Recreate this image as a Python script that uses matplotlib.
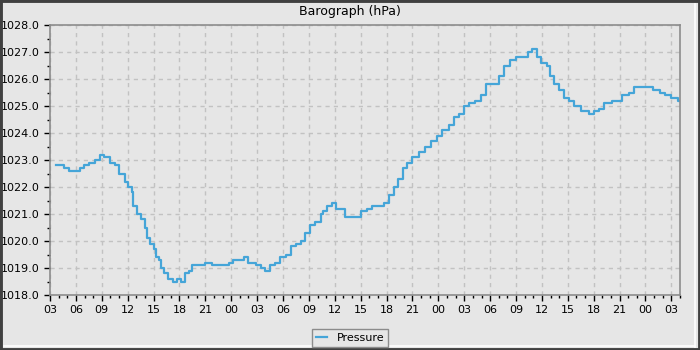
import matplotlib

matplotlib.use("Agg")

import matplotlib.pyplot as plt
from matplotlib.lines import Line2D
from matplotlib.patches import Rectangle
from matplotlib.ticker import FuncFormatter, MultipleLocator

# hours counted from midnight of the first day (three days shown)
hours = [
    3.75, 4.35, 4.65, 5.25, 6.0, 6.45, 6.9, 7.5, 8.25, 8.85, 9.3, 9.9, 10.5,
    10.95, 11.7, 12.0, 12.45, 12.6, 13.05, 13.5, 13.95, 14.25, 14.55, 15.0,
    15.3, 15.6, 15.9, 16.2, 16.65, 17.25, 17.7, 18.15, 18.6, 19.05, 19.5,
    20.25, 21.0, 21.75, 22.8, 23.7, 24.15, 25.05, 25.5, 25.95, 26.85, 27.45,
    27.9, 28.5, 29.1, 29.7, 30.3, 30.9, 31.5, 32.1, 32.55, 33.15, 33.75,
    34.35, 34.65, 35.1, 35.7, 36.15, 36.75, 37.2, 37.8, 38.55, 39.0, 39.75,
    40.35, 41.1, 41.7, 42.3, 42.9, 43.35, 43.95, 44.4, 45.0, 45.75, 46.5,
    47.1, 47.85, 48.45, 49.2, 49.8, 50.4, 51.0, 51.6, 52.2, 52.95, 53.55,
    54.3, 55.05, 55.65, 56.25, 57.0, 57.75, 58.35, 58.8, 59.4, 59.85, 60.6,
    60.9, 61.35, 61.95, 62.55, 63.15, 63.75, 64.5, 65.4, 66.0, 66.6, 67.2,
    68.1, 68.7, 69.3, 70.05, 70.65, 71.55, 72.3, 72.9, 73.65, 74.25, 75.0,
    75.75, 76.0,
]
pressure = [
    1022.8, 1022.8, 1022.7, 1022.6, 1022.6, 1022.7, 1022.8, 1022.9, 1023.0,
    1023.2, 1023.1, 1022.9, 1022.8, 1022.5, 1022.2, 1022.0, 1021.8, 1021.3,
    1021.0, 1020.8, 1020.5, 1020.1, 1019.9, 1019.7, 1019.4, 1019.3, 1019.0,
    1018.8, 1018.6, 1018.5, 1018.6, 1018.5, 1018.8, 1018.9, 1019.1, 1019.1,
    1019.2, 1019.1, 1019.1, 1019.2, 1019.3, 1019.3, 1019.4, 1019.2, 1019.1,
    1019.0, 1018.9, 1019.1, 1019.2, 1019.4, 1019.5, 1019.8, 1019.9, 1020.0,
    1020.3, 1020.6, 1020.7, 1021.0, 1021.1, 1021.3, 1021.4, 1021.2, 1021.2,
    1020.9, 1020.9, 1020.9, 1021.1, 1021.2, 1021.3, 1021.3, 1021.4, 1021.7,
    1022.0, 1022.3, 1022.7, 1022.9, 1023.1, 1023.3, 1023.5, 1023.7, 1023.9,
    1024.1, 1024.3, 1024.6, 1024.7, 1025.0, 1025.1, 1025.2, 1025.4, 1025.8,
    1025.8, 1026.1, 1026.5, 1026.7, 1026.8, 1026.8, 1027.0, 1027.1, 1026.8,
    1026.6, 1026.5, 1026.1, 1025.8, 1025.6, 1025.3, 1025.2, 1025.0, 1024.8,
    1024.7, 1024.8, 1024.9, 1025.1, 1025.2, 1025.2, 1025.4, 1025.5, 1025.7,
    1025.7, 1025.7, 1025.6, 1025.5, 1025.4, 1025.3, 1025.2, 1025.2,
]
x_ticks = list(range(3, 76, 3))

bg = "#e6e6e6"
line_color = "#45a5d8"

fig = plt.figure(figsize=(7, 3.5), dpi=100, facecolor=bg)
ax = fig.add_axes([50 / 700, 55 / 350, 630 / 700, 270 / 350], facecolor=bg)

ax.plot(hours, pressure, color=line_color, linewidth=1.6, drawstyle="steps-post", label="Pressure")

ax.set_xlim(3, 76.0)
ax.set_ylim(1018, 1028)
ax.set_xticks(x_ticks)
ax.xaxis.set_minor_locator(MultipleLocator(1))
ax.xaxis.set_major_formatter(FuncFormatter(lambda v, _: f"{int(round(v)) % 24:02d}"))
ax.yaxis.set_major_locator(MultipleLocator(1))
ax.yaxis.set_minor_locator(MultipleLocator(0.5))
ax.yaxis.set_major_formatter(FuncFormatter(lambda v, _: f"{v:.1f}"))

ax.tick_params(which="major", direction="out", length=4.5, width=1, color="black", labelsize=8, pad=3)
ax.tick_params(which="minor", direction="out", length=2.5, width=1, color="black")
ax.grid(True, which="major", color="#c2c2c2", linestyle=(0, (3, 3)), linewidth=1)
ax.set_axisbelow(True)
for spine in ax.spines.values():
    spine.set_color("#8c8c8c")
    spine.set_linewidth(1.2)

fig.text(0.5, 1 - 11 / 350, "Barograph (hPa)", ha="center", va="center", fontsize=9)

fig.legend(
    loc="lower center",
    bbox_to_anchor=(0.5, 0.0),
    fontsize=8,
    handlelength=1.0,
    handletextpad=0.9,
    borderpad=0.35,
    borderaxespad=0.3,
    frameon=True,
    fancybox=False,
    edgecolor="#8c8c8c",
    facecolor=bg,
    framealpha=1,
)

# bevelled frame round the picture
fig.add_artist(Line2D([0.993, 0.993], [0.01, 0.99], transform=fig.transFigure, color="white", linewidth=1.2))
fig.add_artist(Line2D([0.005, 0.993], [0.011, 0.011], transform=fig.transFigure, color="white", linewidth=1.2))
fig.add_artist(Rectangle((0, 0), 1, 1, transform=fig.transFigure, fill=False, edgecolor="#404040", linewidth=3.5))

fig.savefig("out.png", dpi=100, facecolor=bg)
